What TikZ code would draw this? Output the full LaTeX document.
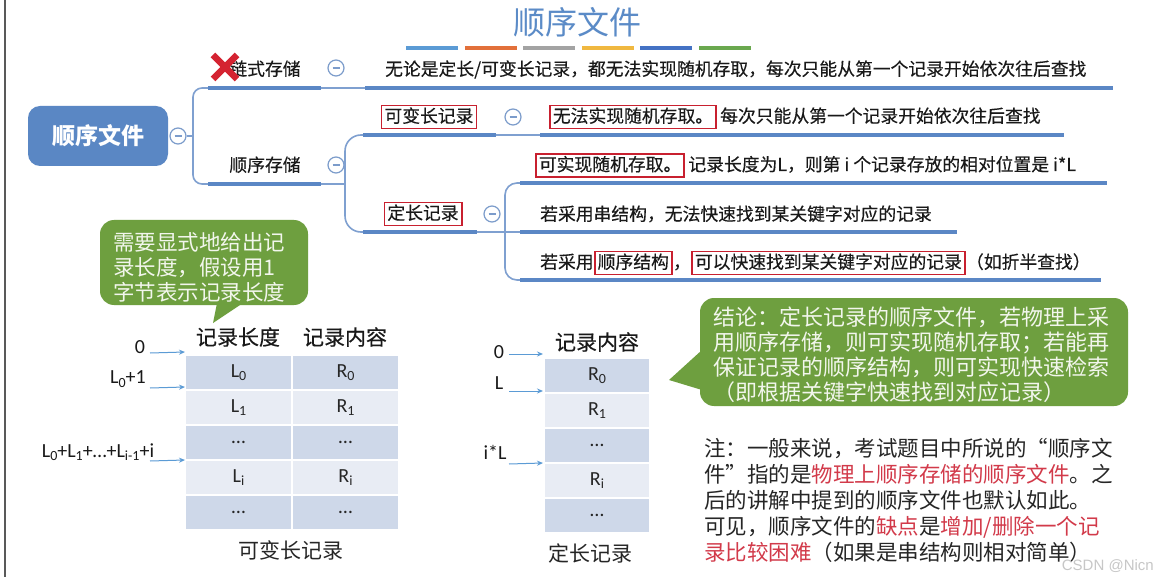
\documentclass[tikz,border=0pt]{standalone}
\usepackage{fontspec}
\setmainfont{Carlito}
\newfontfamily\cjk{Noto Sans CJK SC}
\newfontfamily\cjkm[FakeBold=0.35]{Noto Sans CJK SC}
\newfontfamily\wmfont{Liberation Sans}
\usetikzlibrary{arrows.meta}
\definecolor{mmblue}{HTML}{5B87C5}
\definecolor{connblue}{HTML}{7FA0D0}
\definecolor{circblue}{HTML}{7C9CCB}
\definecolor{rootblue}{HTML}{5A87C4}
\definecolor{titleblue}{HTML}{5B8BC7}
\definecolor{boxred}{HTML}{C8202F}
\definecolor{xred}{HTML}{D42331}
\definecolor{notered}{HTML}{D23A4A}
\definecolor{calloutgreen}{HTML}{6E9F3F}
\definecolor{callouttext}{HTML}{F2F6EC}
\definecolor{celldark}{HTML}{CED8E9}
\definecolor{celllight}{HTML}{E8ECF4}
\definecolor{arrowblue}{HTML}{5B9BD5}
\definecolor{barA}{HTML}{5B9BD5}
\definecolor{barB}{HTML}{E2703A}
\definecolor{barC}{HTML}{A3A3A3}
\definecolor{barD}{HTML}{F0B840}
\definecolor{barE}{HTML}{4472C4}
\definecolor{barF}{HTML}{6AA84F}
\newcommand{\lsub}[1]{\raisebox{-0.35ex}{\fontsize{14}{14}\selectfont #1}}
\tikzset{
  mm/.style={font=\cjkm\fontsize{17.8}{20}\selectfont, text=black!90, inner sep=0pt, text height=14.5pt, text depth=3.5pt},
  redbox/.style={draw=boxred, line width=1.8pt, inner xsep=3pt, inner ysep=2.5pt},
  topic/.style={draw=mmblue, line width=4pt},
  conn/.style={draw=connblue, line width=1.6pt},
  minus/.style={circle, draw=circblue, fill=white, line width=1.2pt, minimum size=16pt, inner sep=0pt,
    path picture={\draw[circblue, line width=1.2pt] ([xshift=-3.5pt]path picture bounding box.center) -- ([xshift=3.5pt]path picture bounding box.center);}},
  root/.style={rectangle, rounded corners=12pt, fill=rootblue, minimum width=140pt, minimum height=60pt,
    text=white, font=\cjk\bfseries\fontsize{23}{26}\selectfont},
  callt/.style={font=\cjk\fontsize{21.5}{25}\selectfont, text=callouttext, align=left, inner sep=0pt},
  callt2/.style={font=\cjk\fontsize{22}{25}\selectfont, text=callouttext, align=left, inner sep=0pt},
  note/.style={font=\cjk\fontsize{21.5}{26}\selectfont, text=black!85, align=left, inner sep=0pt},
  cell/.style={rectangle, draw=white, line width=2pt, minimum height=35pt, inner sep=0pt, font=\fontsize{20}{22}\selectfont, text=black!85},
  hdr/.style={font=\cjkm\fontsize{21}{24}\selectfont, text=black!90, inner sep=0pt},
  captext/.style={font=\cjk\fontsize{21}{24}\selectfont, text=black!85, inner sep=0pt},
  lbl/.style={font=\fontsize{20}{22}\selectfont, text=black!90, inner sep=0pt},
  arr/.style={draw=arrowblue, line width=1pt, -{Stealth[length=6pt,width=5pt]}},
  xmark/.style={draw=xred, line width=6.5pt}
}
\begin{document}
\begin{tikzpicture}[x=1pt,y=-1pt]
\fill[white] (0,0) rectangle (1156,577);
\useasboundingbox (0,0) rectangle (1156,577);
\draw[line width=2pt, black!65] (5,0) -- (5,577);

% title
\node[font=\cjk\fontsize{32}{36}\selectfont, text=titleblue, inner sep=0pt] (title) at (577,22) {顺序文件};
\foreach \c [count=\i from 0] in {barA,barB,barC,barD,barE,barF}
  \fill[\c] ({406+58.5*\i},46) rectangle ++(52,4);

% root
\node[root] (root) at (98,136) {顺序文件};
\node[minus] (m0) at (178,136) {};
\coordinate (j0) at (193,136);
\coordinate (t1s) at (208,88); \coordinate (t1e) at (321,88);
\coordinate (t2s) at (208,184); \coordinate (t2e) at (321,184);
\draw[conn] (m0.east) -- (j0);
\draw[conn, rounded corners=9pt] (t1s) -| (j0) |- (t2s);
\draw[topic] (t1s) -- (t1e);
\draw[topic] (t2s) -- (t2e);

% chain storage branch
\node[mm] (lian) at (265,70) {链式存储};
\node[minus] (m1) at (336,68) {};
\coordinate (c1s) at (365,88); \coordinate (c1e) at (1113,88);
\draw[conn] (t1e) -- (c1s);
\draw[topic] (c1s) -- (c1e);
\node[mm, anchor=west] (lianT) at (385,70) {无论是定长/可变长记录，都无法实现随机存取，每次只能从第一个记录开始依次往后查找};
\draw[xmark] (213,55) -- (237,79) (237,55) -- (213,79);

% sequential storage branch
\node[mm] (shun) at (265,166) {顺序存储};
\node[minus] (m2) at (336,165) {};
\coordinate (j2) at (345,184);
\coordinate (k1s) at (363,135); \coordinate (k1e) at (496,135);
\coordinate (k2s) at (363,232); \coordinate (k2e) at (477,232);
\draw[conn] (t2e) -- (j2);
\draw[conn, rounded corners=16pt] (k1s) -| (j2) |- (k2s);
\draw[topic] (k1s) -- (k1e);
\draw[topic] (k2s) -- (k2e);

% variable length
\node[mm, redbox] (kb) at (429,117) {可变长记录};
\node[minus] (m3) at (513,117) {};
\coordinate (d1s) at (540,135); \coordinate (d1e) at (1064,135);
\draw[conn] (k1e) -- (d1s);
\draw[topic] (d1s) -- (d1e);
\node[mm, redbox, anchor=west] (kbA) at (549,117) {无法实现随机存取。};
\node[mm, anchor=west] (kbB) at ([xshift=3pt]kbA.east) {每次只能从第一个记录开始依次往后查找};

% fixed length
\node[mm, redbox] (dc) at (423,214) {定长记录};
\node[minus] (m4) at (492,214) {};
\coordinate (j4) at (505,232);
\coordinate (e1s) at (520,183); \coordinate (e1e) at (1107,183);
\coordinate (e2s) at (520,232); \coordinate (e2e) at (957,232);
\coordinate (e3s) at (520,280); \coordinate (e3e) at (1101,280);
\draw[conn] (k2e) -- (j4);
\draw[conn, rounded corners=12pt] (e1s) -| (j4) |- (e3s);
\draw[conn] (j4) -- (e2s);
\draw[topic] (e1s) -- (e1e);
\draw[topic] (e2s) -- (e2e);
\draw[topic] (e3s) -- (e3e);
\node[mm, redbox, anchor=west] (e1A) at (535,165.5) {可实现随机存取。};
\node[mm, anchor=west] (e1B) at ([xshift=3pt]e1A.east) {记录长度为L，则第 i 个记录存放的相对位置是 i*L};
\node[mm, anchor=west] (e2A) at (540,215) {若采用串结构，无法快速找到某关键字对应的记录};
\node[mm, anchor=west] (e3A) at (540,263) {若采用};
\node[mm, redbox, anchor=west] (e3B) at (e3A.east) {顺序结构};
\node[mm, anchor=west] (e3C) at (e3B.east) {，};
\node[mm, redbox, anchor=west] (e3D) at (e3C.east) {可以快速找到某关键字对应的记录};
\node[mm, anchor=west] (e3E) at (e3D.east) {（如折半查找）};

% callout 1
\fill[calloutgreen, rounded corners=14pt] (100,220) rectangle (308,305);
\fill[calloutgreen] (217,303) -- (243,303) -- (213,323) -- cycle;
\node[callt] (cb1) at (199,267) {需要显式地给出记\\录长度，假设用1\\字节表示记录长度};

% callout 2
\fill[calloutgreen, rounded corners=14pt] (700,298) rectangle (1128,406);
\fill[calloutgreen] (702,350) -- (669,380) -- (702,390) -- cycle;
\node[callt2, anchor=west] (cb2) at (713,355) {结论：定长记录的顺序文件，若物理上采\\用顺序存储，则可实现随机存取；若能再\\保证记录的顺序结构，则可实现快速检索\\（即根据关键字快速找到对应记录）};

% table 1
\node[hdr] (h1) at (238,337) {记录长度};
\node[hdr] (h2) at (345,337) {记录内容};
\node[cell, fill=celldark, minimum width=107pt] (a0) at (238.5,372.5) {L\lsub{0}};
\node[cell, fill=celldark, minimum width=107pt] (b0) at (345.5,372.5) {R\lsub{0}};
\node[cell, fill=celllight, minimum width=107pt] (a1) at (238.5,407.5) {L\lsub{1}};
\node[cell, fill=celllight, minimum width=107pt] (b1) at (345.5,407.5) {R\lsub{1}};
\node[cell, fill=celldark, minimum width=107pt] (a2) at (238.5,442.5) {…};
\node[cell, fill=celldark, minimum width=107pt] (b2) at (345.5,442.5) {…};
\node[cell, fill=celllight, minimum width=107pt] (a3) at (238.5,477.5) {L\lsub{i}};
\node[cell, fill=celllight, minimum width=107pt] (b3) at (345.5,477.5) {R\lsub{i}};
\node[cell, fill=celldark, minimum width=107pt] (a4) at (238.5,512.5) {…};
\node[cell, fill=celldark, minimum width=107pt] (b4) at (345.5,512.5) {…};
\node[lbl] (z0) at (140,347) {0};
\node[lbl] (z1) at (128,379) {L\lsub{0}+1};
\node[lbl] (z2) at (98,452) {L\lsub{0}+L\lsub{1}+…+L\lsub{i-1}+i};
\coordinate (z0a) at (150,353); \coordinate (z0b) at (185,352);
\coordinate (z1a) at (150,388); \coordinate (z1b) at (185,387);
\coordinate (z2a) at (150,461); \coordinate (z2b) at (185,460);
\draw[arr] (z0a) -- (z0b);
\draw[arr] (z1a) -- (z1b);
\draw[arr] (z2a) -- (z2b);
\node[captext] (cap1) at (291,550) {可变长记录};

% table 2
\node[hdr] (h3) at (597,342) {记录内容};
\node[cell, fill=celldark, minimum width=106pt] (r0) at (597,375.5) {R\lsub{0}};
\node[cell, fill=celllight, minimum width=106pt] (r1) at (597,410.5) {R\lsub{1}};
\node[cell, fill=celldark, minimum width=106pt] (r2) at (597,445.5) {…};
\node[cell, fill=celllight, minimum width=106pt] (r3) at (597,480.5) {R\lsub{i}};
\node[cell, fill=celldark, minimum width=106pt] (r4) at (597,515.5) {…};
\node[lbl] (y0) at (499,352) {0};
\node[lbl] (y1) at (499,383) {L};
\node[lbl] (y2) at (495,452) {i*L};
\coordinate (y0a) at (509,354); \coordinate (y0b) at (543,354);
\coordinate (y1a) at (509,391); \coordinate (y1b) at (543,391);
\coordinate (y2a) at (509,464); \coordinate (y2b) at (543,463);
\draw[arr] (y0a) -- (y0b);
\draw[arr] (y1a) -- (y1b);
\draw[arr] (y2a) -- (y2b);
\node[captext] (cap2) at (590,553) {定长记录};

% note
\node[note, anchor=west] (note) at (704,500) {注：一般来说，考试题目中所说的“顺序文\\件”指的是\textcolor{notered}{物理上顺序存储的顺序文件}。之\\后的讲解中提到的顺序文件也默认如此。\\可见，顺序文件的\textcolor{notered}{缺点}是\textcolor{notered}{增加/删除一个记}\\\textcolor{notered}{录比较困难}（如果是串结构则相对简单）};

% watermark
\node[font=\wmfont\fontsize{15}{17}\selectfont, text=black!22, anchor=east, inner sep=0pt] (wm) at (1154,566) {CSDN @Nicn};
\end{tikzpicture}
\end{document}
